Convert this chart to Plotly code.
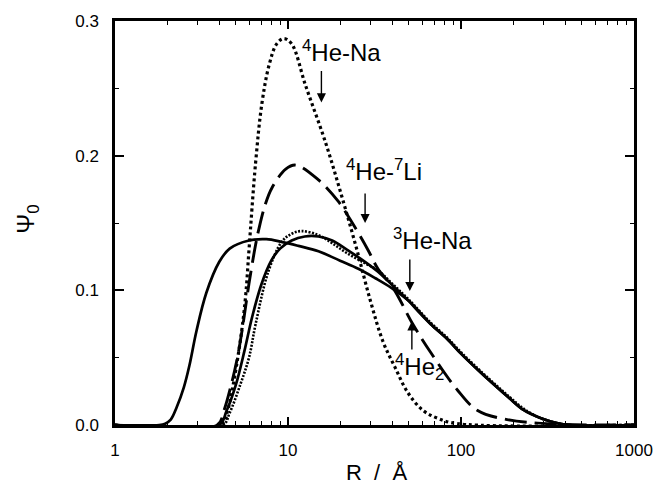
import plotly.graph_objects as go
import math

# Curve A: solid, early rise
r_a = [1.0, 1.8, 1.95, 2.1, 2.27, 2.5, 2.69, 2.96, 3.37, 4.0, 4.6, 5.95, 7.5, 9.2, 11.5, 15, 20, 25.5, 32, 39.4, 50, 66.7, 83, 100, 125, 155, 190, 231, 290, 357, 420, 1000]
psi_a = [0, 0, 0.001, 0.004, 0.013, 0.028, 0.044, 0.070, 0.098, 0.121, 0.131, 0.137, 0.138, 0.136, 0.133, 0.129, 0.122, 0.116, 0.109, 0.102, 0.092, 0.075, 0.064, 0.053, 0.041, 0.030, 0.020, 0.011, 0.005, 0.0015, 0, 0]

# Curve B: solid, late rise
r_b = [1.0, 4.0, 4.4, 5.0, 5.6, 6.2, 7.0, 8.0, 9.0, 10.5, 12.5, 15, 18, 22, 28, 33, 40, 50, 56, 66.7, 83, 100, 125, 155, 190, 231, 290, 357, 420, 1000]
psi_b = [0, 0, 0.010, 0.030, 0.055, 0.080, 0.104, 0.122, 0.131, 0.137, 0.140, 0.140, 0.137, 0.130, 0.121, 0.114, 0.104, 0.092, 0.085, 0.075, 0.064, 0.053, 0.041, 0.030, 0.020, 0.011, 0.005, 0.0015, 0, 0]

# Curve C: fine dotted (hatched look), next to B
r_c = [1.0, 4.2, 4.6, 5.3, 5.95, 6.5, 7.7, 9.2, 10.5, 12, 15, 18, 22.3, 28, 33, 40, 50, 66.7, 83, 100, 125, 155, 190, 231, 290, 357, 420, 1000]
psi_c = [0, 0, 0.009, 0.030, 0.050, 0.075, 0.114, 0.136, 0.142, 0.144, 0.141, 0.135, 0.127, 0.120, 0.115, 0.105, 0.093, 0.076, 0.065, 0.054, 0.042, 0.031, 0.021, 0.012, 0.005, 0.0015, 0, 0]

# Curve D: long dash (4He-7Li)
r_d = [1.0, 3.9, 4.27, 4.7, 5.1, 5.5, 5.95, 6.5, 6.8, 7.4, 8.07, 9.7, 11.07, 15.0, 19.54, 23.8, 29.0, 33.1, 40.4, 52.6, 66.7, 95.3, 124, 184.6, 357, 1000]
psi_d = [0, 0, 0.011, 0.030, 0.050, 0.075, 0.105, 0.134, 0.146, 0.164, 0.176, 0.190, 0.193, 0.182, 0.166, 0.149, 0.130, 0.116, 0.102, 0.075, 0.054, 0.026, 0.011, 0.004, 0.0007, 0]

# Curve E: dotted (4He-Na)
r_e = [1.0, 4.1, 4.5, 4.9, 5.4, 5.7, 5.95, 6.5, 7.07, 7.8, 8.6, 9.45, 10.5, 12.64, 16.46, 20.33, 24.79, 29.83, 35.4, 41.5, 49.3, 60.1, 73.2, 95.3, 1000]
psi_e = [0, 0, 0.012, 0.035, 0.070, 0.097, 0.130, 0.195, 0.239, 0.268, 0.283, 0.287, 0.283, 0.252, 0.210, 0.171, 0.132, 0.093, 0.062, 0.043, 0.024, 0.011, 0.005, 0.001, 0]

x_ticks = [1, 10, 100, 1000]
x_tick_text = ["1", "10", "100", "1000"]
y_ticks = [0.0, 0.1, 0.2, 0.3]
y_tick_text = ["0.0", "0.1", "0.2", "0.3"]

fig = go.Figure()
common = dict(mode="lines", line_shape="spline", showlegend=False, hoverinfo="skip")
fig.add_trace(go.Scatter(x=r_a, y=psi_a, line=dict(color="black", width=2.7, smoothing=1), **common))
fig.add_trace(go.Scatter(x=r_b, y=psi_b, line=dict(color="black", width=2.7, smoothing=1), **common))
fig.add_trace(go.Scatter(x=r_c, y=psi_c, line=dict(color="black", width=2.6, dash="2px,1.5px", smoothing=1), **common))
fig.add_trace(go.Scatter(x=r_d, y=psi_d, line=dict(color="black", width=2.9, dash="22px,8px", smoothing=1), **common))
fig.add_trace(go.Scatter(x=r_e, y=psi_e, line=dict(color="black", width=3.2, dash="3px,3px", smoothing=1), **common))

minor_x = [m * 10 ** k for k in range(3) for m in range(2, 10)]

fig.update_xaxes(type="log", range=[0, 3], tickvals=x_ticks, ticktext=x_tick_text,
                 ticks="inside", ticklen=8, tickwidth=1.5, tickcolor="black", ticklabelstandoff=8,
                 minor=dict(tickvals=minor_x, ticks="inside", ticklen=4, tickwidth=1.2, tickcolor="black"),
                 showline=True, linewidth=2.5, linecolor="black", mirror="ticks",
                 showgrid=False, zeroline=False,
                 tickfont=dict(family="Liberation Sans, Arial", size=17, color="black"))
fig.update_yaxes(range=[0, 0.3], tickvals=y_ticks, ticktext=y_tick_text,
                 ticks="inside", ticklen=9, tickwidth=1.5, tickcolor="black", ticklabelstandoff=10,
                 minor=dict(tickvals=[0.05, 0.15, 0.25], ticks="inside", ticklen=4, tickwidth=1.2, tickcolor="black"),
                 showline=True, linewidth=2.5, linecolor="black", mirror="ticks",
                 showgrid=False, zeroline=False,
                 tickfont=dict(family="Liberation Sans, Arial", size=17, color="black"))

lab_font = dict(family="Liberation Sans, Arial", size=24, color="black")
labels = [
    ("<sup>4</sup>He-Na", 20.5, 0.278),
    ("<sup>4</sup>He-<sup>7</sup>Li", 35.9, 0.189),
    ("<sup>3</sup>He-Na", 68.5, 0.138),
    ("<sup>4</sup>He<sub>2</sub>", 57.7, 0.043),
]
for txt, rx, py in labels:
    fig.add_annotation(x=math.log10(rx), y=py, text=txt, showarrow=False, font=lab_font,
                       xanchor="center", yanchor="middle")

arrows = [
    (15.6, 0.2395, 0.264),
    (27.9, 0.150, 0.173),
    (50.6, 0.0995, 0.124),
    (52.0, 0.077, 0.055),
]
for rx, yh, yt in arrows:
    fig.add_annotation(x=math.log10(rx), y=yh, ax=math.log10(rx), ay=yt, axref="x", ayref="y",
                       text="", showarrow=True, arrowhead=2, arrowsize=1.3, arrowwidth=1.4,
                       arrowcolor="black")

fig.add_annotation(xref="paper", yref="paper", x=0.503, y=-0.151, text="R&nbsp;&nbsp;/&nbsp;&nbsp;Å", showarrow=False,
                   font=dict(family="Liberation Sans, Arial", size=22, color="black"),
                   xanchor="center", yanchor="bottom", borderpad=0)
fig.add_annotation(xref="paper", yref="paper", x=-0.168, y=0.51, text="Ψ<sub>0</sub>", showarrow=False,
                   textangle=-90, font=dict(family="Liberation Sans, Arial", size=24, color="black"),
                   xanchor="center", yanchor="middle")

fig.update_layout(width=665, height=487, margin=dict(l=115, r=27, t=18, b=62),
                  plot_bgcolor="white", paper_bgcolor="white")
fig.write_html("out.html", config={"displayModeBar": False},
               post_script="document.body.style.margin='0px';document.body.style.padding='0px';")
